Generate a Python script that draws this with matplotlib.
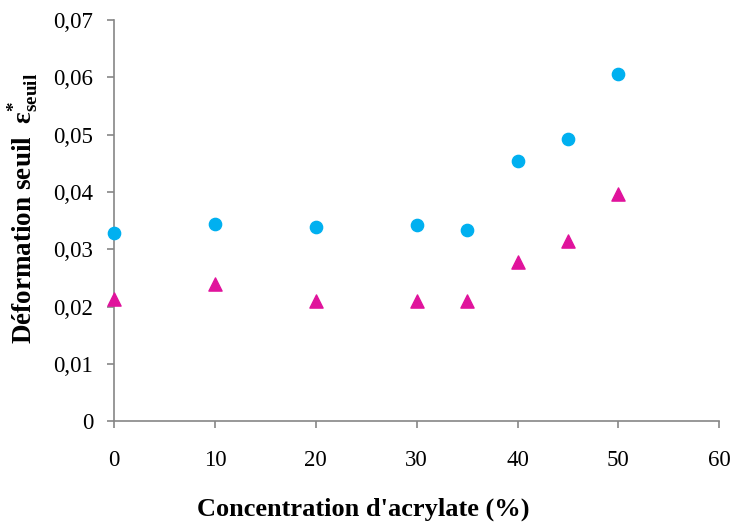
import matplotlib
matplotlib.use("Agg")
import matplotlib.pyplot as plt
from matplotlib.ticker import FuncFormatter

# data
conc = [0, 10, 20, 30, 35, 40, 45, 50]
serie_cercles = [0.0329, 0.0344, 0.0339, 0.0343, 0.0333, 0.0454, 0.0492, 0.0605]
serie_triangles = [0.0214, 0.0239, 0.0209, 0.0209, 0.0209, 0.0278, 0.0315, 0.0397]
x_ticks = [0, 10, 20, 30, 40, 50, 60]
y_ticks = [0, 0.01, 0.02, 0.03, 0.04, 0.05, 0.06, 0.07]

plt.rcParams['font.family'] = ['Liberation Serif', 'DejaVu Serif']
plt.rcParams['mathtext.fontset'] = 'custom'
plt.rcParams['mathtext.rm'] = 'Liberation Serif'
plt.rcParams['mathtext.it'] = 'Liberation Serif:italic'
plt.rcParams['mathtext.bf'] = 'Liberation Serif:bold'

fig = plt.figure(figsize=(7.31, 5.22), dpi=100)
ax = fig.add_axes([0.156, 0.193, 0.828, 0.769])

ax.scatter(conc, serie_cercles, s=78, marker='o', color='#00B0F0', zorder=3, clip_on=False)
ax.scatter(conc, serie_triangles, s=90, marker='^', color='#E0139C', zorder=3, clip_on=False)

ax.set_xlim(0, 60)
ax.set_ylim(0, 0.07)
ax.set_xticks(x_ticks)
ax.set_yticks(y_ticks)
ax.yaxis.set_major_formatter(FuncFormatter(lambda v, p: '0' if v == 0 else f"{v:.2f}".replace('.', ',')))

for side in ['top', 'right']:
    ax.spines[side].set_visible(False)
for side in ['left', 'bottom']:
    ax.spines[side].set_color('#868686')
    ax.spines[side].set_linewidth(1.2)

ax.tick_params(axis='both', colors='#868686', labelcolor='black', labelsize=16.5,
               length=5, width=1.2, direction='out')
ax.tick_params(axis='x', pad=16)
ax.tick_params(axis='y', pad=10)

ax.set_xlabel("Concentration d'acrylate (%)", fontsize=19, fontweight='bold')
ax.xaxis.set_label_coords(0.412, -0.19)
ax.set_ylabel(r"Déformation seuil  $\mathbf{\varepsilon^{*}_{seuil}}$", fontsize=19.5,
              fontweight='bold')
ax.yaxis.set_label_coords(-0.12, 0.53)

fig.savefig('out.png', dpi=100)
